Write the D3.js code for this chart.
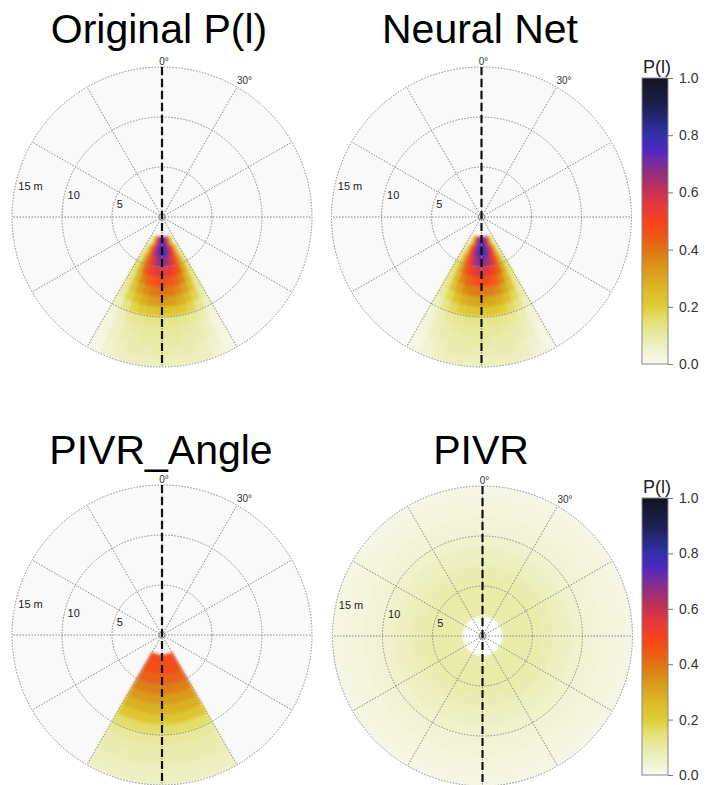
<!DOCTYPE html>
<html>
<head>
<meta charset="utf-8">
<script src="https://cdn.jsdelivr.net/npm/d3@7"></script>
<style>
  body { margin: 0; background: #fff; }
  text { font-family: "Liberation Sans", Arial, sans-serif; }
</style>
</head>
<body>
<script>
/*--------------------------------
  DATA
--------------------------------*/
// radial bins (m) and angular bins (deg, relative to the downward axis)
const ringEdges = [2, 3, 4, 5, 6, 7, 8, 9, 10, 11, 12, 13, 14, 15];
const angleEdges = [-30, -25, -20, -15, -10, -5, 0, 5, 10, 15, 20, 25, 30];

// P(l) per ring (rows, 2-3 m ... 14-15 m) and per angle bin (columns)
const originalP = [
  [0.05, 0.14, 0.32, 0.52, 0.66, 0.76, 0.76, 0.66, 0.52, 0.32, 0.14, 0.05],
  [0.10, 0.26, 0.46, 0.60, 0.71, 0.78, 0.78, 0.71, 0.60, 0.46, 0.26, 0.10],
  [0.14, 0.30, 0.46, 0.56, 0.63, 0.68, 0.68, 0.63, 0.56, 0.46, 0.30, 0.14],
  [0.16, 0.30, 0.44, 0.51, 0.55, 0.56, 0.56, 0.55, 0.51, 0.44, 0.30, 0.16],
  [0.14, 0.26, 0.37, 0.43, 0.46, 0.47, 0.47, 0.46, 0.43, 0.37, 0.26, 0.14],
  [0.12, 0.22, 0.31, 0.36, 0.39, 0.40, 0.40, 0.39, 0.36, 0.31, 0.22, 0.12],
  [0.10, 0.18, 0.25, 0.29, 0.32, 0.33, 0.33, 0.32, 0.29, 0.25, 0.18, 0.10],
  [0.07, 0.13, 0.18, 0.21, 0.23, 0.24, 0.24, 0.23, 0.21, 0.18, 0.13, 0.07],
  [0.04, 0.08, 0.11, 0.12, 0.13, 0.13, 0.13, 0.13, 0.12, 0.11, 0.08, 0.04],
  [0.03, 0.06, 0.09, 0.10, 0.11, 0.11, 0.11, 0.11, 0.10, 0.09, 0.06, 0.03],
  [0.03, 0.06, 0.08, 0.09, 0.10, 0.10, 0.10, 0.10, 0.09, 0.08, 0.06, 0.03],
  [0.02, 0.05, 0.07, 0.08, 0.08, 0.09, 0.09, 0.08, 0.08, 0.07, 0.05, 0.02],
  [0.02, 0.04, 0.06, 0.07, 0.07, 0.07, 0.07, 0.07, 0.07, 0.06, 0.04, 0.02],
];

const neuralNetP = [
  [0.05, 0.16, 0.36, 0.55, 0.68, 0.76, 0.76, 0.68, 0.55, 0.36, 0.16, 0.05],
  [0.10, 0.26, 0.48, 0.62, 0.72, 0.79, 0.79, 0.72, 0.62, 0.48, 0.26, 0.10],
  [0.14, 0.30, 0.47, 0.58, 0.65, 0.70, 0.70, 0.65, 0.58, 0.47, 0.30, 0.14],
  [0.16, 0.30, 0.43, 0.51, 0.55, 0.57, 0.57, 0.55, 0.51, 0.43, 0.30, 0.16],
  [0.14, 0.26, 0.37, 0.43, 0.46, 0.48, 0.48, 0.46, 0.43, 0.37, 0.26, 0.14],
  [0.12, 0.22, 0.30, 0.36, 0.38, 0.39, 0.39, 0.38, 0.36, 0.30, 0.22, 0.12],
  [0.10, 0.17, 0.24, 0.28, 0.30, 0.31, 0.31, 0.30, 0.28, 0.24, 0.17, 0.10],
  [0.07, 0.13, 0.17, 0.20, 0.22, 0.23, 0.23, 0.22, 0.20, 0.17, 0.13, 0.07],
  [0.04, 0.08, 0.11, 0.12, 0.13, 0.13, 0.13, 0.13, 0.12, 0.11, 0.08, 0.04],
  [0.04, 0.07, 0.09, 0.10, 0.11, 0.11, 0.11, 0.11, 0.10, 0.09, 0.07, 0.04],
  [0.03, 0.06, 0.08, 0.09, 0.09, 0.10, 0.10, 0.09, 0.09, 0.08, 0.06, 0.03],
  [0.02, 0.05, 0.07, 0.08, 0.08, 0.08, 0.08, 0.08, 0.08, 0.07, 0.05, 0.02],
  [0.02, 0.04, 0.06, 0.07, 0.07, 0.07, 0.07, 0.07, 0.07, 0.06, 0.04, 0.02],
];

// uniform in angle (+-30 deg), one value per ring
const pivrAngleP = [0.48, 0.47, 0.43, 0.38, 0.33, 0.28, 0.22, 0.16, 0.11, 0.09, 0.08, 0.07, 0.06];
// uniform over the full circle, one value per ring
const pivrP = [0.09, 0.095, 0.095, 0.09, 0.08, 0.07, 0.06, 0.05, 0.04, 0.035, 0.03, 0.025, 0.02];

// colormap
const colorStops = [0, 0.05, 0.1, 0.15, 0.2, 0.25, 0.3, 0.35, 0.4, 0.45, 0.5,
  0.55, 0.6, 0.65, 0.7, 0.75, 0.8, 0.9, 1.0];
const colorValues = ['#f9f9f2', '#f0f2cc', '#e8eaa4', '#e3e274', '#e0cc36', '#dcbe2a',
  '#d9a820', '#dc9018', '#e27212', '#ef5614', '#f7421f', '#e8383a', '#c83250',
  '#a03070', '#7a2c9c', '#4c28c0', '#3430aa', '#1c2052', '#121420'];

const barTicks = [0, 0.2, 0.4, 0.6, 0.8, 1.0];
const ringTicks = [5, 10, 15];
const spokeAngles = [0, 30, 60, 90, 120, 150, 180, 210, 240, 270, 300, 330];

/*--------------------------------
  SETUP
--------------------------------*/
const svg = d3.select('body')
  .append('svg')
  .attr('width', 708)
  .attr('height', 785);

const defs = svg.append('defs');
defs.append('filter')
  .attr('id', 'soft')
  .attr('x', '-20%').attr('y', '-20%')
  .attr('width', '140%').attr('height', '140%')
  .append('feGaussianBlur')
  .attr('stdDeviation', 1.5);

const rScale = d3.scaleLinear().domain([0, 15]).range([0, 150]);
const color = d3.scaleLinear()
  .domain(colorStops)
  .range(colorValues)
  .interpolate(d3.interpolateRgb);

const toRad = d => d * Math.PI / 180;
const arc = d3.arc();

// cells for the heat maps
const matrixCells = m => m.flatMap((row, i) => row.map((v, j) => ({
  r0: ringEdges[i], r1: ringEdges[i + 1], a0: angleEdges[j], a1: angleEdges[j + 1], v,
})));
const ringCells = (vals, a0, a1) => vals.map((v, i) => ({
  r0: ringEdges[i], r1: ringEdges[i + 1], a0, a1, v,
}));

const panels = [
  { title: 'Original P(l)', cx: 162, cy: 217, tx: 159, ty: 43, hole: 0, cells: matrixCells(originalP) },
  { title: 'Neural Net', cx: 481.5, cy: 217, tx: 480, ty: 43, hole: 0, cells: matrixCells(neuralNetP) },
  { title: 'PIVR_Angle', cx: 162, cy: 635, tx: 161, ty: 464, hole: 0, cells: ringCells(pivrAngleP, -30, 30) },
  { title: 'PIVR', cx: 482.5, cy: 636, tx: 481, ty: 464, hole: 2, cells: ringCells(pivrP, -180, 180) },
];

/*--------------------------------
  PANELS
--------------------------------*/
const gridColor = '#888';

panels.forEach((p, k) => {
  const g = svg.append('g').attr('transform', `translate(${p.cx}, ${p.cy})`);

  // disk background
  g.append('path')
    .attr('d', arc({ innerRadius: rScale(p.hole), outerRadius: rScale(15), startAngle: 0, endAngle: 2 * Math.PI }))
    .attr('fill', '#f9f9f9');

  // heat cells (downward axis = 180 deg)
  const clipId = `clip${k}`;
  defs.append('clipPath').attr('id', clipId)
    .append('circle').attr('r', rScale(15));

  g.append('g')
    .attr('clip-path', `url(#${clipId})`)
    .append('g')
    .attr('filter', 'url(#soft)')
    .selectAll('path')
    .data(p.cells)
    .enter()
    .append('path')
    .attr('d', d => arc({
      innerRadius: rScale(d.r0),
      outerRadius: rScale(d.r1),
      startAngle: toRad(180 + d.a0),
      endAngle: toRad(180 + d.a1),
    }))
    .attr('fill', d => color(d.v))
    .attr('stroke', d => color(d.v))
    .attr('stroke-width', 0.6);

  // grid
  g.selectAll('.ring')
    .data(ringTicks)
    .enter()
    .append('circle')
    .attr('r', d => rScale(d))
    .attr('fill', 'none')
    .attr('stroke', gridColor)
    .attr('stroke-width', 1)
    .attr('stroke-dasharray', '1.5,1.5');

  g.selectAll('.spoke')
    .data(spokeAngles)
    .enter()
    .append('line')
    .attr('x1', 0).attr('y1', 0)
    .attr('x2', d => rScale(15) * Math.sin(toRad(d)))
    .attr('y2', d => -rScale(15) * Math.cos(toRad(d)))
    .attr('stroke', gridColor)
    .attr('stroke-width', 1)
    .attr('stroke-dasharray', '1.5,1.5');

  g.append('circle')
    .attr('r', 3)
    .attr('fill', 'none')
    .attr('stroke', '#888')
    .attr('stroke-width', 1);

  // heading axis
  g.append('line')
    .attr('x1', 0).attr('y1', -rScale(15))
    .attr('x2', 0).attr('y2', rScale(15))
    .attr('stroke', '#111')
    .attr('stroke-width', 2.2)
    .attr('stroke-dasharray', '8,4');

  // labels
  g.append('text')
    .attr('x', 2).attr('y', -rScale(15.2))
    .attr('text-anchor', 'middle')
    .attr('font-size', 10)
    .attr('fill', '#333')
    .text('0°');

  g.append('text')
    .attr('x', rScale(15.4) * Math.sin(toRad(30)) - 2)
    .attr('y', -rScale(15.4) * Math.cos(toRad(30)))
    .attr('font-size', 10)
    .attr('fill', '#333')
    .text('30°');

  g.selectAll('.rlabel')
    .data(ringTicks)
    .enter()
    .append('text')
    .attr('x', d => rScale(d) * Math.sin(toRad(280)) + 4)
    .attr('y', d => -rScale(d) * Math.cos(toRad(280)) - (d === 5 ? 0 : 1))
    .attr('font-size', 11)
    .attr('fill', '#222')
    .text(d => (d === 15 ? '15 m' : d));

  // title
  svg.append('text')
    .attr('x', p.tx).attr('y', p.ty)
    .attr('text-anchor', 'middle')
    .attr('font-size', 41)
    .attr('fill', '#000')
    .text(p.title);
});

/*--------------------------------
  COLORBARS
--------------------------------*/
const grad = defs.append('linearGradient')
  .attr('id', 'pgrad')
  .attr('x1', 0).attr('y1', 1)
  .attr('x2', 0).attr('y2', 0);
grad.selectAll('stop')
  .data(colorStops)
  .enter()
  .append('stop')
  .attr('offset', d => d)
  .attr('stop-color', (d, i) => colorValues[i]);

const bars = [{ x: 642, y0: 78, y1: 364, ly: 73 }, { x: 642, y0: 498, y1: 775, ly: 493 }];
const barWidth = 26;

bars.forEach((b) => {
  svg.append('rect')
    .attr('x', b.x).attr('y', b.y0)
    .attr('width', barWidth).attr('height', b.y1 - b.y0)
    .attr('fill', 'url(#pgrad)')
    .attr('stroke', '#888')
    .attr('stroke-width', 1);

  const s = d3.scaleLinear().domain([0, 1]).range([b.y1, b.y0]);
  const axisG = svg.append('g')
    .attr('transform', `translate(${b.x + barWidth}, 0)`)
    .call(d3.axisRight(s).tickValues(barTicks).tickSize(5).tickPadding(6)
      .tickFormat(d3.format('.1f')));
  axisG.select('.domain').remove();
  axisG.selectAll('line').attr('stroke', '#777');
  axisG.selectAll('text')
    .attr('font-size', 14)
    .attr('fill', '#333')
    .attr('font-family', '"Liberation Sans", Arial, sans-serif');

  svg.append('text')
    .attr('x', b.x + barWidth / 2 + 2).attr('y', b.ly)
    .attr('text-anchor', 'middle')
    .attr('font-size', 18)
    .attr('fill', '#222')
    .text('P(l)');
});
</script>
</body>
</html>
